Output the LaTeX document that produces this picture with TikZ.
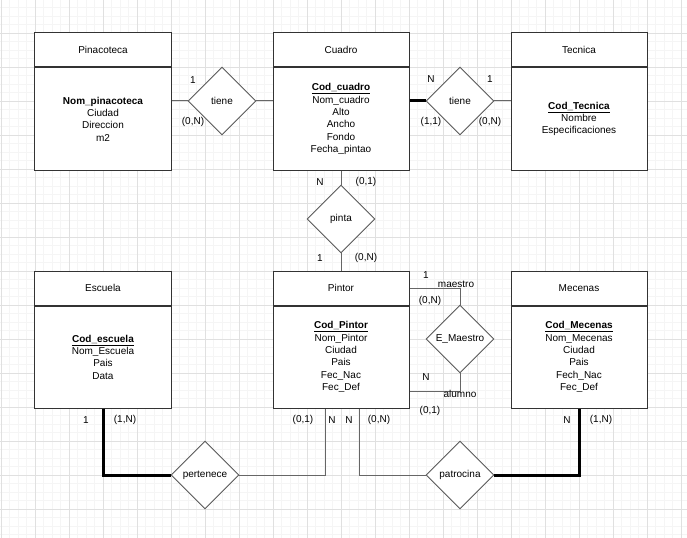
\documentclass[tikz,border=0pt]{standalone}
\usepackage{fontspec}
\setmainfont{Liberation Sans}
\usetikzlibrary{positioning,shapes.geometric}
\newcommand{\clave}[1]{\underline{\textbf{#1}}}
\tikzset{
  texto/.style={font=\fontsize{10bp}{12.3bp}\selectfont},
  cabecera/.style={texto,draw=black!80,fill=white,line width=1bp,minimum width=136bp,minimum height=34bp,inner sep=0pt},
  cuerpo/.style={texto,draw=black!80,fill=white,line width=1bp,minimum width=136bp,minimum height=102bp,inner sep=0pt,align=center},
  relacion/.style={texto,diamond,draw=black!65,fill=white,line width=0.9bp,minimum width=68bp,minimum height=68bp,inner sep=0pt},
  linea/.style={draw=black!60,line width=1bp},
  gruesa/.style={draw=black,line width=3bp},
  card/.style={texto,inner sep=0pt},
  menor/.style={color=black!4,line width=0.8bp},
  mayor/.style={color=black!12,line width=0.8bp}
}
\begin{document}
\begin{tikzpicture}[x=1bp,y=-1bp]
  \useasboundingbox (0,0) rectangle (687,538);
  \fill[white] (0,0) rectangle (687,538);
  \foreach \i in {0,...,80} \draw[menor] ({1+8.5*\i},0) -- ({1+8.5*\i},538);
  \foreach \j in {0,...,63} \draw[menor] (0,{-1+8.5*\j}) -- (687,{-1+8.5*\j});
  \foreach \i in {0,...,20} \draw[mayor] ({1+34*\i},0) -- ({1+34*\i},538);
  \foreach \j in {1,...,15} \draw[mayor] (0,{-1+34*\j}) -- (687,{-1+34*\j});

  \node[cabecera] (pinH) at (103,50) {Pinacoteca};
  \node[cuerpo,below=0pt of pinH] (pin) {\textbf{Nom\_pinacoteca}\\Ciudad\\Direccion\\m2};
  \node[cabecera] (cuaH) at (341,50) {Cuadro};
  \node[cuerpo,below=0pt of cuaH] (cua) {\clave{Cod\_cuadro}\\Nom\_cuadro\\Alto\\Ancho\\Fondo\\Fecha\_pintao};
  \node[cabecera] (tecH) at (579,50) {Tecnica};
  \node[cuerpo,below=0pt of tecH] (tec) {\clave{Cod\_Tecnica}\\Nombre\\Especificaciones};
  \node[cabecera] (escH) at (103,288) {Escuela};
  \node[cuerpo,below=0pt of escH] (esc) {\clave{Cod\_escuela}\\Nom\_Escuela\\Pais\\Data};
  \node[cabecera] (pintH) at (341,288) {Pintor};
  \node[cuerpo,below=0pt of pintH] (pint) {\clave{Cod\_Pintor}\\Nom\_Pintor\\Ciudad\\Pais\\Fec\_Nac\\Fec\_Def};
  \node[cabecera] (mecH) at (579,288) {Mecenas};
  \node[cuerpo,below=0pt of mecH] (mec) {\clave{Cod\_Mecenas}\\Nom\_Mecenas\\Ciudad\\Pais\\Fech\_Nac\\Fec\_Def};

  \node[relacion] (tiene1) at (222,101) {tiene};
  \node[relacion] (tiene2) at (460,101) {tiene};
  \node[relacion] (pinta) at (341,219) {pinta};
  \node[relacion] (maestro) at (460,339) {E\_Maestro};
  \node[relacion] (pertenece) at (205,475) {pertenece};
  \node[relacion] (patrocina) at (460,475) {patrocina};

  \draw[linea] (pin.east |- tiene1.west) -- (tiene1.west);
  \draw[linea] (tiene1.east) -- (tiene1.east -| cua.west);
  \draw[gruesa] (cua.east |- tiene2.west) -- (tiene2.west);
  \draw[linea] (tiene2.east) -- (tiene2.east -| tec.west);
  \draw[linea] (cua.south) -- (pinta.north);
  \draw[linea] (pinta.south) -- (pintH.north);
  \draw[linea] (maestro.north) |- (pintH.east);
  \coordinate (alumno) at ([yshift=17bp]pint.south east);
  \draw[linea] (maestro.south) |- (alumno);
  \draw[gruesa] (esc.south) |- (pertenece.west);
  \coordinate (pertPin) at ([xshift=-16bp]pint.south);
  \draw[linea] (pertenece.east) -| (pertPin);
  \coordinate (patPin) at ([xshift=18bp]pint.south);
  \draw[linea] (patPin) |- (patrocina.west);
  \draw[gruesa] (patrocina.east) -| (mec.south);

  \node[card] (c1) at (193,80) {1};
  \node[card] (c2) at (193,122) {(0,N)};
  \node[card] (c3) at (431,79) {N};
  \node[card] (c4) at (490,79) {1};
  \node[card] (c5) at (431,122) {(1,1)};
  \node[card] (c6) at (490,122) {(0,N)};
  \node[card] (c7) at (320,182) {N};
  \node[card] (c8) at (366,182) {(0,1)};
  \node[card] (c9) at (320,258) {1};
  \node[card] (c10) at (366,258) {(0,N)};
  \node[card] (c11) at (426,275) {1};
  \node[card] (c12) at (456,284) {maestro};
  \node[card] (c13) at (430,301) {(0,N)};
  \node[card] (c14) at (426,377) {N};
  \node[card] (c15) at (460,394) {alumno};
  \node[card] (c16) at (430,411) {(0,1)};
  \node[card] (c17) at (86,420) {1};
  \node[card] (c18) at (125,420) {(1,N)};
  \node[card] (c19) at (303,420) {(0,1)};
  \node[card] (c20) at (332,420) {N};
  \node[card] (c21) at (349,420) {N};
  \node[card] (c22) at (379,420) {(0,N)};
  \node[card] (c23) at (567,420) {N};
  \node[card] (c24) at (601,420) {(1,N)};
\end{tikzpicture}
\end{document}
